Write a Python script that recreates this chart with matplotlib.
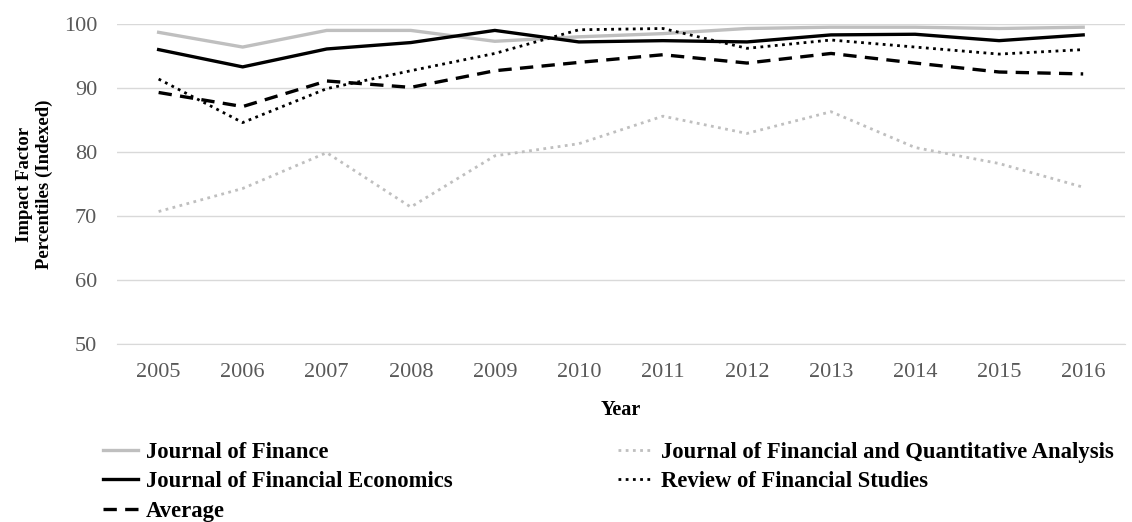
import matplotlib.pyplot as plt

plt.rcParams['font.family'] = ['Liberation Serif', 'DejaVu Serif']

years = ['2005', '2006', '2007', '2008', '2009', '2010', '2011', '2012', '2013', '2014', '2015', '2016']
jof = [98.7, 96.4, 99.0, 99.0, 97.3, 98.0, 98.5, 99.3, 99.5, 99.5, 99.3, 99.5]
jfe = [96.0, 93.3, 96.1, 97.1, 99.0, 97.2, 97.4, 97.2, 98.3, 98.4, 97.4, 98.3]
jfqa = [70.7, 74.3, 79.9, 71.4, 79.4, 81.3, 85.6, 82.9, 86.3, 80.7, 78.2, 74.5]
rfs = [91.4, 84.6, 89.9, 92.7, 95.4, 99.1, 99.3, 96.2, 97.5, 96.4, 95.3, 96.0]
avg = [89.3, 87.1, 91.1, 90.1, 92.7, 94.0, 95.2, 93.9, 95.4, 93.9, 92.5, 92.2]

fig = plt.figure(figsize=(11.32, 5.22), dpi=100)
ax = fig.add_axes([0.103, 0.341, 0.891, 0.613])

x = list(range(len(years)))
ax.plot(x, jof, color='#bfbfbf', lw=2.4, label='Journal of Finance')
ax.plot(x, jfe, color='black', lw=2.4, label='Journal of Financial Economics')
ax.plot(x, avg, color='black', lw=2.4, ls=(0, (4, 2.5)), label='Average')
ax.plot(x, jfqa, color='#bfbfbf', lw=2.0, ls=(0, (1, 1.6)), label='Journal of Financial and Quantitative Analysis')
ax.plot(x, rfs, color='black', lw=2.0, ls=(0, (1, 1.6)), label='Review of Financial Studies')

ax.set_xlim(-0.5, len(years) - 0.5)
ax.set_ylim(50, 100)
ax.set_yticks([50, 60, 70, 80, 90, 100])
ax.set_xticks(x)
ax.set_xticklabels(years)
ax.grid(axis='y', color='#d9d9d9', lw=1)
ax.set_axisbelow(True)
for s in ['top', 'right', 'left']:
    ax.spines[s].set_visible(False)
ax.spines['bottom'].set_color('#d9d9d9')
ax.tick_params(length=0, labelsize=16, labelcolor='#595959')
ax.tick_params(axis='x', pad=13.5)
ax.tick_params(axis='y', pad=14)

ax.set_xlabel('Year', fontsize=14.5, fontweight='bold', labelpad=13)
ax.set_ylabel('Impact Factor\nPercentiles (Indexed)', fontsize=13.5, fontweight='bold', labelpad=8)

leg = fig.legend(loc='upper left', bbox_to_anchor=(0.083, 0.171), ncol=2, frameon=False,
                 prop={'weight': 'bold', 'size': 16.3}, handlelength=1.55, handletextpad=0.35,
                 columnspacing=7.3, labelspacing=0.38, borderaxespad=0)

fig.savefig('out.png', dpi=100)
